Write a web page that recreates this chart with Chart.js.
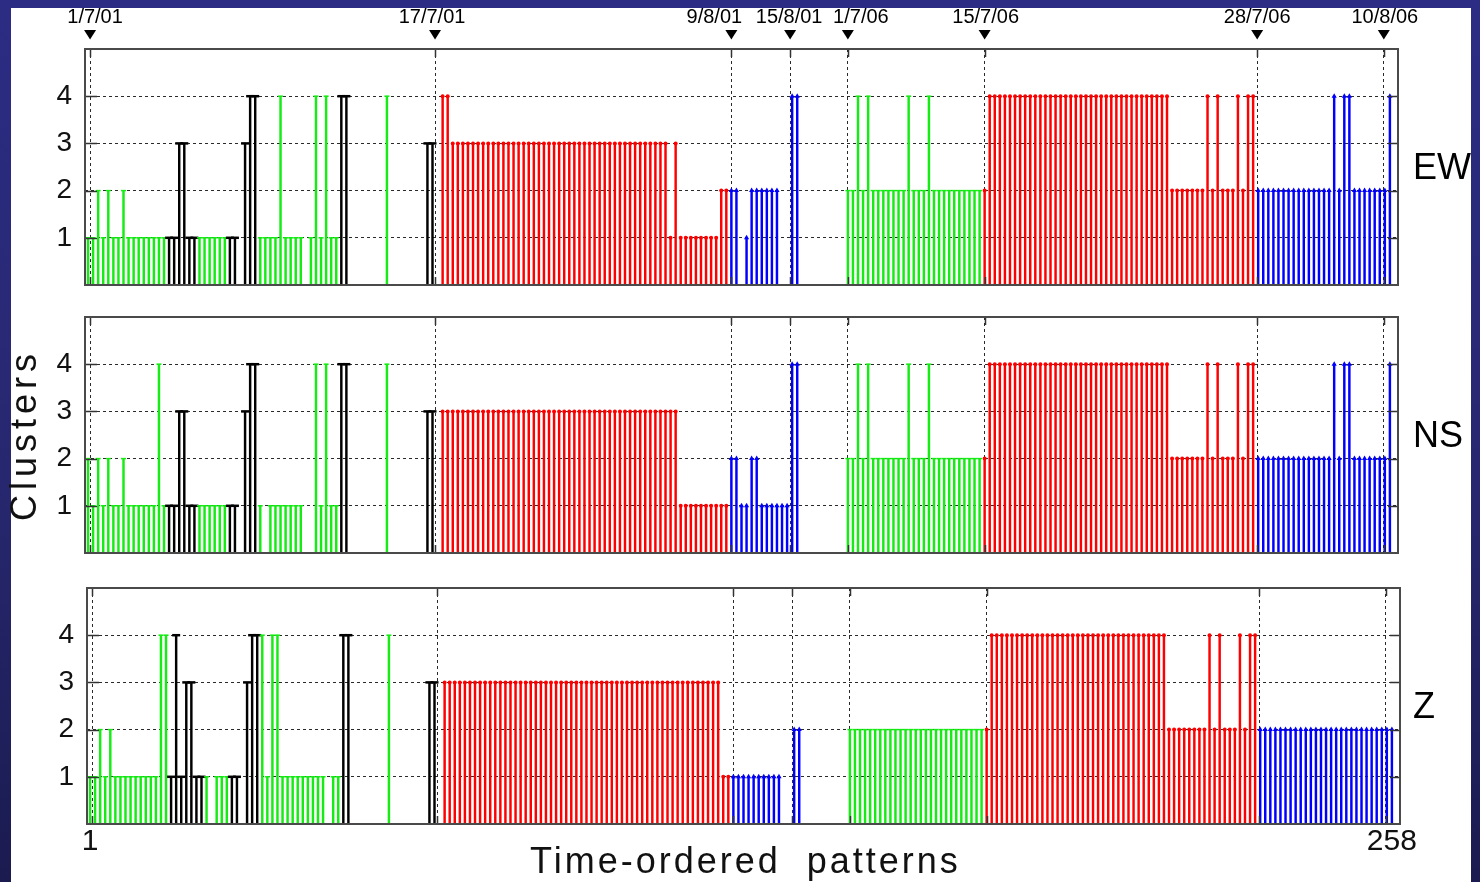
<!DOCTYPE html>
<html>
<head>
<meta charset="utf-8">
<script src="https://cdn.jsdelivr.net/npm/chart.js@4.4.0/dist/chart.umd.min.js"></script>
<style>
html, body { margin: 0; padding: 0; }
body { width: 1480px; height: 882px; overflow: hidden; position: relative;
  background: linear-gradient(to bottom, #2c2c84 0%, #27276f 55%, #1b1b50 100%); }
#paper { position: absolute; left: 11px; top: 8px; width: 1460px; height: 874px; background: #fff; }
canvas { position: absolute; left: 0; top: 0; }
</style>
</head>
<body>
<div id="paper"></div>
<canvas id="ew" width="1471" height="882"></canvas>
<canvas id="ns" width="1471" height="882"></canvas>
<canvas id="z" width="1471" height="882"></canvas>
<script>
// date markers (in pattern units) and their labels
const dateLabels = ['1/7/01', '17/7/01', '9/8/01', '15/8/01', '1/7/06', '15/7/06', '28/7/06', '10/8/06'];
const datePos = [1.4, 69.5, 128, 139.6, 151, 178, 231.8, 256.8];
const yTicks = [1, 2, 3, 4];
const xEnds = [1, 258];

// cluster number per pattern (1..258), 0 = no pattern; 10 per group
const ewValues = [
  '1121211211', '1111111133', '1111111111', '0344111141', '1110141411',
  '4400000004', '0000000330', '4433333333', '3333333333', '3333333333',
  '3333333333', '3333313111', '1111122220', '1222222004', '4000000000',
  '2242422222', '2242224222', '2222222244', '4444444444', '4444444444',
  '4444444444', '4444222222', '2424222424', '4222222222', '2222224244', '22222224'];
const ewGroups = [
  'gggggggggg', 'ggggggkkkk', 'kkggggggkk', '.kkkgggggg', 'ggg.gggggg',
  'kk.......g', '.......kk.', 'rrrrrrrrrr', 'rrrrrrrrrr', 'rrrrrrrrrr',
  'rrrrrrrrrr', 'rrrrrrrrrr', 'rrrrrrrbb.', 'bbbbbbb..b', 'b.........',
  'gggggggggg', 'gggggggggg', 'gggggggrrr', 'rrrrrrrrrr', 'rrrrrrrrrr',
  'rrrrrrrrrr', 'rrrrrrrrrr', 'rrrrrrrrrr', 'rbbbbbbbbb', 'bbbbbbbbbb', 'bbbbbbbb'];

const nsValues = [
  '2121211211', '1111411133', '1111111111', '0344101111', '1110041411',
  '4400000004', '0000000330', '3333333333', '3333333333', '3333333333',
  '3333333333', '3333333111', '1111111221', '1221111114', '4000000000',
  '2242422222', '2242224222', '2222222244', '4444444444', '4444444444',
  '4444444444', '4444222222', '2424222424', '4222222222', '2222224244', '22222224'];
const nsGroups = [
  'gggggggggg', 'ggggggkkkk', 'kkggggggkk', '.kkkg.gggg', 'ggg..ggggg',
  'kk.......g', '.......kk.', 'rrrrrrrrrr', 'rrrrrrrrrr', 'rrrrrrrrrr',
  'rrrrrrrrrr', 'rrrrrrrrrr', 'rrrrrrrbbb', 'bbbbbbbbbb', 'b.........',
  'gggggggggg', 'gggggggggg', 'gggggggrrr', 'rrrrrrrrrr', 'rrrrrrrrrr',
  'rrrrrrrrrr', 'rrrrrrrrrr', 'rrrrrrrrrr', 'rbbbbbbbbb', 'bbbbbbbbbb', 'bbbbbbbb'];

const zValues = [
  '1121211111', '1111441413', '3111011111', '0344414411', '1111111011',
  '4400000004', '0000000330', '3333333333', '3333333333', '3333333333',
  '3333333333', '3333333333', '3333311111', '1111111002', '2000000000',
  '2222222222', '2222222222', '2222222244', '4444444444', '4444444444',
  '4444444444', '4442222222', '2424222424', '4222222222', '2222222222', '22222222'];
const zGroups = [
  'gggggggggg', 'ggggggkkkk', 'kkkg.gggkk', '.kkkgggggg', 'ggggggg.gg',
  'kk.......g', '.......kk.', 'rrrrrrrrrr', 'rrrrrrrrrr', 'rrrrrrrrrr',
  'rrrrrrrrrr', 'rrrrrrrrrr', 'rrrrrrrbbb', 'bbbbbbb..b', 'b.........',
  'gggggggggg', 'gggggggggg', 'gggggggrrr', 'rrrrrrrrrr', 'rrrrrrrrrr',
  'rrrrrrrrrr', 'rrrrrrrrrr', 'rrrrrrrrrr', 'rbbbbbbbbb', 'bbbbbbbbbb', 'bbbbbbbb'];

const COLORS = { g: '#14ec14', k: '#000000', r: '#ff0000', b: '#0000ff' };
const MARKS = { g: ['line', 2.5, 1.5], k: ['line', 4, 2.5], r: ['circle', 2, 0], b: ['triangle', 3, 0] };
const FONT = 'Liberation Sans, Arial, Helvetica, sans-serif';
const dateNudge = [5, -3, -17, -1, 13, 1, 0, 1];

Chart.defaults.font.family = FONT;

function points(vals, groups) {
  const v = vals.join(''), g = groups.join('');
  const out = [];
  for (let i = 0; i < v.length; i++) {
    if (v[i] !== '0') out.push({ x: i + 1, y: +v[i], g: g[i] });
  }
  return out;
}

function makePanel(id, vals, groups, box, name, extra) {
  const cv = document.getElementById(id);
  const pts = points(vals, groups);
  const yW = 60;
  const deco = {
    id: 'deco',
    afterDraw(chart) {
      const { ctx, chartArea: a, scales: { x, y } } = chart;
      ctx.save();
      // inward ticks
      ctx.strokeStyle = '#333';
      ctx.lineWidth = 1.5;
      ctx.beginPath();
      yTicks.forEach(v => {
        const py = Math.round(y.getPixelForValue(v)) + 0.5;
        ctx.moveTo(a.left, py); ctx.lineTo(a.left + 12, py);
        ctx.moveTo(a.right - 10, py); ctx.lineTo(a.right, py);
      });
      datePos.forEach(v => {
        const px = Math.round(x.getPixelForValue(v)) + 0.5;
        ctx.moveTo(px, a.top); ctx.lineTo(px, a.top + 8);
        ctx.moveTo(px, a.bottom); ctx.lineTo(px, a.bottom - 8);
      });
      ctx.stroke();
      // frame
      ctx.strokeStyle = '#4a4a4a';
      ctx.lineWidth = 2;
      ctx.strokeRect(a.left, a.top, a.right - a.left, a.bottom - a.top);
      // panel name
      ctx.fillStyle = '#000';
      ctx.font = '36px ' + FONT;
      ctx.textAlign = 'left';
      ctx.textBaseline = 'middle';
      ctx.fillText(name, 1413, y.getPixelForValue(2.45));
      if (extra) extra(ctx, a, x, y);
      ctx.restore();
    }
  };
  return new Chart(cv, {
    type: 'bar',
    data: {
      datasets: [{
        type: 'scatter',
        order: 0,
        data: pts.map(p => ({ x: p.x, y: p.y })),
        showLine: false,
        pointStyle: pts.map(p => MARKS[p.g][0]),
        pointRadius: pts.map(p => MARKS[p.g][1]),
        borderWidth: pts.map(p => MARKS[p.g][2]),
        backgroundColor: pts.map(p => COLORS[p.g]),
        borderColor: pts.map(p => COLORS[p.g]),
        pointHoverRadius: 0
      }, {
        type: 'bar',
        order: 1,
        data: pts.map(p => ({ x: p.x, y: p.y })),
        backgroundColor: pts.map(p => COLORS[p.g]),
        borderWidth: 0,
        barThickness: 1.8
      }]
    },
    options: {
      responsive: false,
      animation: false,
      events: [],
      layout: { padding: { left: box.left - yW, right: cv.width - box.right, top: box.top, bottom: cv.height - box.bottom } },
      plugins: { legend: { display: false }, tooltip: { enabled: false } },
      scales: {
        x: {
          type: 'linear', min: 0.4, max: 259.6, offset: false,
          afterBuildTicks: s => { s.ticks = datePos.map(v => ({ value: v })); },
          afterFit: s => { s.height = 0; },
          ticks: { display: false },
          grid: { offset: false, drawTicks: false, color: '#2a2a2a', lineWidth: 1 },
          border: { display: false, dash: [3, 3] }
        },
        y: {
          min: 0, max: 5,
          afterFit: s => { s.width = yW; },
          afterBuildTicks: s => { s.ticks = [0, 1, 2, 3, 4, 5].map(v => ({ value: v })); },
          ticks: {
            padding: 13, color: '#111', font: { size: 28 },
            callback: v => (yTicks.includes(v) ? String(v) : '')
          },
          grid: {
            drawTicks: false, lineWidth: 1,
            color: c => (c.tick && yTicks.includes(c.tick.value) ? '#2a2a2a' : 'rgba(0,0,0,0)')
          },
          border: { display: false, dash: [3, 3] }
        }
      }
    },
    plugins: [deco]
  });
}

makePanel('ew', ewValues, ewGroups, { left: 85, right: 1398, top: 49, bottom: 285 }, 'EW', (ctx, a, x) => {
  ctx.fillStyle = '#000';
  ctx.font = '20px ' + FONT;
  ctx.textAlign = 'center';
  ctx.textBaseline = 'alphabetic';
  datePos.forEach((v, i) => {
    const px = x.getPixelForValue(v);
    ctx.fillText(dateLabels[i], px + dateNudge[i], 23);
    ctx.beginPath();
    ctx.moveTo(px - 6, 30); ctx.lineTo(px + 6, 30); ctx.lineTo(px, 39.5);
    ctx.closePath();
    ctx.fill();
  });
});

makePanel('ns', nsValues, nsGroups, { left: 85, right: 1398, top: 317, bottom: 553 }, 'NS', ctx => {
  ctx.save();
  ctx.translate(26, 435);
  ctx.rotate(-Math.PI / 2);
  ctx.font = '36px ' + FONT;
  ctx.letterSpacing = '5px';
  ctx.textAlign = 'center';
  ctx.textBaseline = 'middle';
  ctx.fillStyle = '#111';
  ctx.fillText('Clusters', 0, 0);
  ctx.restore();
});

makePanel('z', zValues, zGroups, { left: 87, right: 1400, top: 588, bottom: 824 }, 'Z', (ctx, a, x) => {
  ctx.fillStyle = '#111';
  ctx.font = '30px ' + FONT;
  ctx.textAlign = 'center';
  ctx.textBaseline = 'middle';
  xEnds.forEach(v => ctx.fillText(String(v), x.getPixelForValue(v), 842));
  ctx.font = '36px ' + FONT;
  ctx.letterSpacing = '3px';
  ctx.textAlign = 'left';
  ctx.fillText('Time-ordered  patterns', 530, 863);
});
</script>
</body>
</html>
